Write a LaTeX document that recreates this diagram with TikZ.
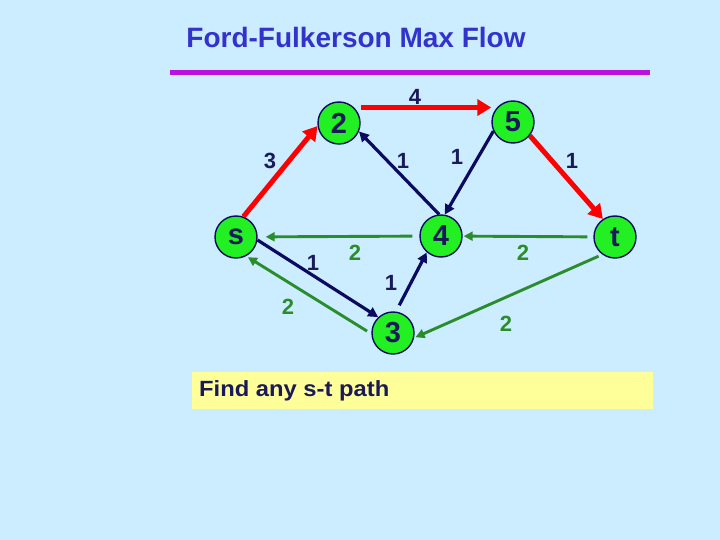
\documentclass[tikz,border=0pt]{standalone}
\usepackage{fontspec}
\setmainfont{Liberation Sans}
\usetikzlibrary{arrows.meta}
\definecolor{bg}{HTML}{CCECFF}
\definecolor{titleblue}{HTML}{3333CC}
\definecolor{rulemag}{HTML}{BB11DD}
\definecolor{nodegreen}{HTML}{22F022}
\definecolor{navy}{HTML}{0A0A5E}
\definecolor{labnavy}{HTML}{1A1A5A}
\definecolor{edgegreen}{HTML}{2A8C2A}
\definecolor{boxyellow}{HTML}{FFFF99}
\tikzset{
  vtx/.style={circle, fill=nodegreen, draw=navy, line width=1.4pt, minimum size=42pt, inner sep=0pt,
    font=\fontsize{29}{29}\selectfont\bfseries, text=labnavy},
  redE/.style={draw=red, line width=5pt, -{Triangle[length=14pt,width=16pt]}},
  navyE/.style={draw=navy, line width=3.2pt, -{Triangle[length=10pt,width=10pt]}},
  greenE/.style={draw=edgegreen, line width=2.9pt, -{Triangle[length=9pt,width=9pt]}},
  nlab/.style={font=\fontsize{22}{22}\selectfont\bfseries, text=labnavy},
  glab/.style={font=\fontsize{22}{22}\selectfont\bfseries, text=edgegreen}
}
\begin{document}
\begin{tikzpicture}[x=1pt,y=-1pt]
\fill[bg] (0,0) rectangle (720,540);
\useasboundingbox (0,0) rectangle (720,540);
\node[font=\fontsize{28}{28}\selectfont\bfseries, text=titleblue] (title) at (356,37) {Ford-Fulkerson Max Flow};
\draw[rulemag, line width=5pt] (170,72.5) -- (650,72.5);

\node[vtx] (s) at (236,237) {s};
\node[vtx] (n2) at (339,123) {2};
\node[vtx] (n5) at (513,122) {5};
\node[vtx] (n4) at (441,236) {4};
\node[vtx] (n3) at (393,333) {3};
\node[vtx] (t) at (615,237) {t};

\draw[redE] (s.70) -- (n2.188);
\draw[redE] ([yshift=15.5pt]n2.east) -- ([yshift=15.5pt]n2.east -| n5.west);
\draw[redE] (n5.-39) -- (t.124);
\draw[navyE] (n4.95) -- (n2.-23);
\draw[navyE] (n5.205) -- (n4.80);
\draw[navyE] (s.-8) -- (n3.133);
\draw[navyE, shorten <=7pt] (n3.82) -- (n4.229);
\draw[greenE, shorten <=7pt, shorten >=8pt] (n4) -- (s);
\draw[greenE, shorten <=6pt, shorten >=1pt] (t) -- (n4);
\draw[greenE, shorten <=5pt, shorten >=2pt] (n3.182) -- (s.-62);
\draw[greenE, shorten <=4pt, shorten >=1.5pt] (t.234) -- (n3.-13);

\node[nlab] (l1) at (270,161) {3};
\node[nlab] (l2) at (415,97) {4};
\node[nlab] (l3) at (403,161) {1};
\node[nlab] (l4) at (457,157) {1};
\node[nlab] (l5) at (572,161) {1};
\node[glab] (l6) at (355,253) {2};
\node[nlab] (l7) at (313,263) {1};
\node[nlab] (l8) at (391,283) {1};
\node[glab] (l9) at (288,307) {2};
\node[glab] (l10) at (523,253) {2};
\node[glab] (l11) at (506,324) {2};

\node[fill=boxyellow, minimum width=461pt, minimum height=37pt, inner sep=0pt, anchor=north west] (box) at (192,372) {};
\node[font=\fontsize{22}{22}\selectfont\bfseries, text=labnavy, anchor=west, inner sep=0pt] (boxtext) at (199,390.5) {\scalebox{1.08}[1]{Find any s-t path}};
\end{tikzpicture}
\end{document}
